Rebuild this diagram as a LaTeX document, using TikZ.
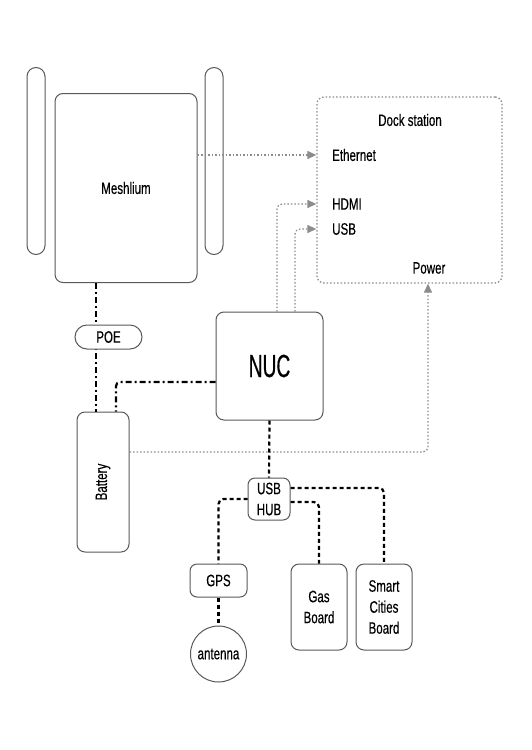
\documentclass[tikz,border=0pt]{standalone}
\usepackage{fontspec}
\setmainfont{Liberation Sans}[FakeStretch=0.7, FakeBold=0.4]
\newfontfamily\nucfont{Liberation Sans}[FakeStretch=0.6, FakeBold=0.4]
\usetikzlibrary{arrows.meta}

\begin{document}
\begin{tikzpicture}[x=1pt, y=-1pt,
  every node/.style={font=\fontsize{16.5}{21}\selectfont, inner sep=0pt, align=center},
  part/.style={draw=black!65, line width=1pt, rounded corners=8pt, fill=white},
  pill/.style={draw=black!65, line width=1pt, rounded corners=#1, fill=white},
  powerline/.style={line width=2.2pt, dash pattern=on 6pt off 3pt on 2pt off 3pt},
  usbline/.style={line width=2.2pt, dash pattern=on 4pt off 3pt, rounded corners=5pt},
  dockline/.style={draw=black!45, line width=1.3pt, dash pattern=on 1.5pt off 2pt, rounded corners=5pt},
  dockarrow/.style={dockline, -{Triangle[length=9pt, width=8pt, fill=black!45]}}]
\useasboundingbox (0,0) rectangle (531,750);
% meshlium with its two aerials
\node[pill=9pt, minimum width=18pt, minimum height=187pt] (aerialL) at (36,161) {};
\node[pill=9pt, minimum width=18pt, minimum height=187pt] (aerialR) at (214,161) {};
\node[part, minimum width=142pt, minimum height=189pt] (mesh) at (126,188) {Meshlium};
% dock station
\node[dockline, draw=black!45, minimum width=185pt, minimum height=186pt, rounded corners=7pt] (dock) at (409.5,190) {};
\node (docktitle) at (410,120) {Dock station};
\node[anchor=west] (eth) at (332,155) {Ethernet};
\node[anchor=west] (hdmi) at (332,204) {HDMI};
\node[anchor=west] (usb) at (332,229) {USB};
\node (power) at (429,268) {Power};
% power side
\coordinate (poeTap) at (96,300);
\coordinate (nucTap) at (116,382);
\coordinate (pwrTap) at (428,452);
\coordinate (hdmiTap) at (277,204);
\coordinate (usbTap) at (295,229);
\node[part, minimum width=107pt, minimum height=108pt] (nuc) at (269.5,366) {\nucfont\fontsize{32}{36}\selectfont NUC};
\node[part, minimum width=52pt, minimum height=140pt] (batt) at (103,482) {};
\node[rotate=90] (battlabel) at (batt.center) {Battery};
\draw[powerline] (poeTap |- mesh.south) -- (poeTap |- batt.north);
\draw[powerline, rounded corners=4pt] (nucTap -| nuc.west) -- (nucTap) -- (nucTap |- batt.north);
\node[pill=12pt, minimum width=67pt, minimum height=24pt] (poe) at (108.5,337) {POE};
% usb side
\node[part, rounded corners=7pt, minimum width=42pt, minimum height=42pt] (hub) at (269,499) {USB\\HUB};
\node[part, rounded corners=7pt, minimum width=57pt, minimum height=33pt] (gps) at (218.5,580.5) {GPS};
\node[draw=black!65, line width=1pt, circle, minimum size=56pt, fill=white] (ant) at (218.5,654) {antenna};
\node[part, minimum width=56pt, minimum height=86pt] (gas) at (319,607) {Gas\\Board};
\node[part, minimum width=56pt, minimum height=86pt] (smart) at (384,607) {Smart\\Cities\\Board};
% connectors
\draw[dockarrow] (mesh.east |- eth) -- (dock.west |- eth);
\draw[dockarrow] (hdmiTap |- nuc.north) -- (hdmiTap) -- (dock.west |- hdmi);
\draw[dockarrow] (usbTap |- nuc.north) -- (usbTap) -- (dock.west |- usb);
\draw[dockarrow] (pwrTap -| batt.east) -- (pwrTap) -- (pwrTap |- dock.south);
\draw[usbline] (nuc.south) -- (hub.north);
\draw[usbline] (hub.west) -| (gps.north);
\draw[usbline] (gps.south) -- (ant.north);
\draw[usbline] ([yshift=-3pt]hub.east) -| (gas.north);
\draw[usbline] ([yshift=11pt]hub.east) -| (smart.north);
\end{tikzpicture}
\end{document}
